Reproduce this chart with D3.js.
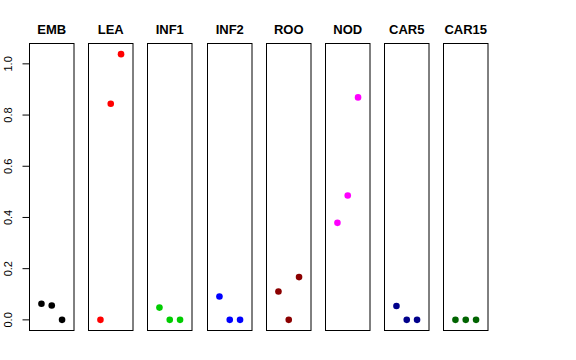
<!DOCTYPE html>
<html><head><meta charset="utf-8">
<script src="https://cdn.jsdelivr.net/npm/d3@7"></script>
<style>body{margin:0;background:#fff}</style>
</head><body>
<svg id="c" width="576" height="360"></svg>
<script>
const panels = ["EMB","LEA","INF1","INF2","ROO","NOD","CAR5","CAR15"];
const colors = ["#000000","#FF0000","#00CD00","#0000FF","#8B0000","#FF00FF","#00008B","#006400"];
const EMB = [0.063, 0.056, 0.0];
const LEA = [0.0, 0.844, 1.038];
const INF1 = [0.048, 0.0, 0.0];
const INF2 = [0.091, 0.0, 0.0];
const ROO = [0.111, 0.0, 0.167];
const NOD = [0.379, 0.486, 0.869];
const CAR5 = [0.054, 0.0, 0.0];
const CAR15 = [0.0, 0.0, 0.0];
const seriesValues = [EMB, LEA, INF1, INF2, ROO, NOD, CAR5, CAR15];
const yTicks = [0, 0.2, 0.4, 0.6, 0.8, 1.0];

const svg = d3.select("#c");
const plotTop = 43.5, plotBottom = 330.5;
const yMax = 1.038;
const y = d3.scaleLinear().domain([-0.04*yMax, 1.04*yMax]).range([plotBottom, plotTop]);
const panelScale = d3.scaleBand().domain(panels).range([29, 29 + 59.2*8]).paddingInner(0);
const pw = 44.5;

panels.forEach((p, i) => {
  const x0 = Math.round(panelScale(p)) + 0.5;
  const x = d3.scaleLinear().domain([-0.16, 4.16]).range([x0, x0 + pw]);
  const g = svg.append("g");
  g.append("rect").attr("x", x0).attr("y", plotTop).attr("width", pw).attr("height", plotBottom - plotTop)
    .attr("fill", "none").attr("stroke", "#000").attr("stroke-width", 1);
  g.append("text").attr("x", x0 + pw/2).attr("y", 34).attr("text-anchor", "middle")
    .attr("font-family", "Liberation Sans, Arial, sans-serif").attr("font-weight", "bold")
    .attr("font-size", 13).text(p);
  g.selectAll("circle").data(seriesValues[i]).enter().append("circle")
    .attr("cx", (d, j) => x(j + 1)).attr("cy", d => y(d)).attr("r", 3.3)
    .attr("fill", colors[i]);
});

const axis = d3.axisLeft(y).tickValues(yTicks).tickFormat(d3.format(".1f")).tickSize(7).tickSizeOuter(0);
const ag = svg.append("g").attr("transform", "translate(29.5,0)").call(axis);
ag.select(".domain").attr("d", `M0,${y(0)}V${y(1)}`).attr("stroke", "#000");
ag.selectAll(".tick line").attr("stroke", "#000");
ag.selectAll(".tick text")
  .attr("font-family", "Liberation Sans, Arial, sans-serif").attr("font-size", 11)
  .attr("fill", "#000")
  .attr("transform", "rotate(-90)")
  .attr("x", d => -y(d)).attr("y", -18).attr("dy", 0)
  .attr("text-anchor", "middle");
ag.selectAll(".tick").attr("transform", "translate(0,0)");
ag.selectAll(".tick line").attr("y1", d => y(d)).attr("y2", d => y(d)).attr("x2", -7);
</script>
</body></html>
